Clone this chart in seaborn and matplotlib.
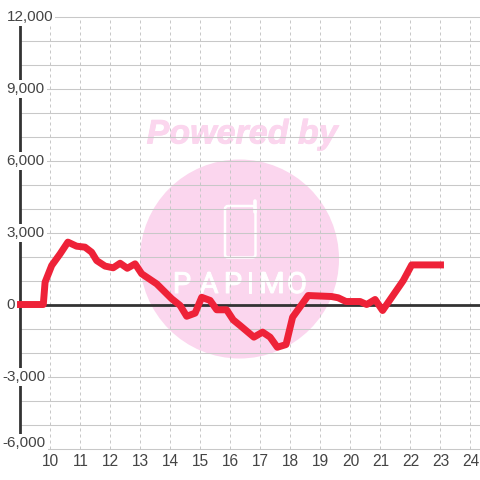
import matplotlib
matplotlib.use("Agg")
import matplotlib.pyplot as plt
import matplotlib.patheffects as pe
from matplotlib.patches import Circle, FancyBboxPatch
import seaborn as sns

# hours and cumulative values
hours = [9, 9.76, 9.82, 10.04, 10.32, 10.58, 10.87, 11.15, 11.37, 11.54, 11.82, 12.09,
         12.32, 12.56, 12.82, 13.04, 13.54, 14.04, 14.32, 14.54, 14.82, 15.04, 15.32,
         15.54, 15.87, 16.09, 16.32, 16.78, 17.07, 17.32, 17.56, 17.85, 18.07, 18.59,
         19.37, 19.59, 19.85, 20.32, 20.54, 20.82, 21.07, 21.76, 22.04, 23]
values = [0, 0, 930, 1625, 2110, 2600, 2430, 2390, 2180, 1830, 1600, 1530,
          1720, 1510, 1695, 1280, 860, 240, -40, -490, -360, 300, 170,
          -220, -220, -640, -875, -1360, -1150, -1360, -1780, -1670, -530, 375,
          333, 280, 125, 125, 0, 210, -250, 1000, 1650, 1650]
x_ticks = list(range(10, 25))
y_grid = list(range(-6000, 12001, 1000))
y_ticks = [-6000, -3000, 0, 3000, 6000, 9000, 12000]
y_labels = ["-6,000", "-3,000", "0", "3,000", "6,000", "9,000", "12,000"]

sns.set_theme(style="white")
plt.rcParams["font.family"] = ["Liberation Sans", "DejaVu Sans"]

fig = plt.figure(figsize=(4.8, 4.8), dpi=100)

# watermark sits under everything, in pixel coordinates
wm = fig.add_axes([0, 0, 1, 1], zorder=0)
wm.set_xlim(0, 480)
wm.set_ylim(480, 0)
wm.axis("off")
pink = "#fbd6ee"
wm.add_patch(Circle((239.5, 259), 99.5, color=pink, lw=0))
wm.text(242, 135, "Powered by", color=pink, fontsize=24.5, fontweight="bold",
        fontstyle="italic", ha="center", va="center",
        path_effects=[pe.withStroke(linewidth=0.6, foreground=pink)])
wm.add_patch(FancyBboxPatch((225, 206), 30.5, 51.5, boxstyle="round,pad=0,rounding_size=3",
                            fc="none", ec="white", lw=1.8))
wm.plot([254.5, 254.5], [201, 212], color="white", lw=2.6, solid_capstyle="round")
for lx, ch in zip([182, 209, 233, 250, 272, 297], "PAPIMO"):
    wm.text(lx, 285, ch, color="white", fontsize=21, ha="center", va="center", family="Roboto",
            path_effects=[pe.withStroke(linewidth=0.7, foreground="white")])

ax = fig.add_axes([0, 0, 1, 1], zorder=1)
ax.patch.set_alpha(0)
ax.set_xlim(8.317, 24.317)
ax.set_ylim(-7312, 12688)
for s in ax.spines.values():
    s.set_visible(False)
ax.set_xticks([])
ax.set_yticks([])

ax.hlines(y_grid, 9, 24.317, color="#c8c8c8", lw=0.75, zorder=1)
ax.vlines(x_ticks, -6000, 12000, color="#c8c8c8", lw=0.72, linestyles=(0, (3, 3)), zorder=1)
ax.axhline(0, xmin=(9 - 8.317) / 16, color="#333333", lw=2, zorder=2)
ax.vlines(9, -6000, 12000, color="#333333", lw=2, zorder=2)

for y, lab in zip(y_ticks, y_labels):
    left = 2.5 if lab.startswith("-") else 6.5
    # the bottom label is pushed up so it stays inside the plot area
    yy = y + 250 if y == -6000 else y
    ax.text(8.317 + left / 30, yy - 20, lab, ha="left", va="center", fontsize=11, color="#444444",
            bbox=dict(fc="white", ec="none", pad=1.5), zorder=3)
for x in x_ticks:
    ax.text(x, -6000 - 13 * 1000 / 24, str(x), ha="center", va="center", fontsize=11.2,
            color="#444444", zorder=3)

sns.lineplot(x=hours, y=values, ax=ax, color="#ee2238", linewidth=5, errorbar=None,
             solid_capstyle="projecting", solid_joinstyle="round", zorder=4)
ax.set_xlabel("")
ax.set_ylabel("")

fig.savefig("out.png", dpi=100)
